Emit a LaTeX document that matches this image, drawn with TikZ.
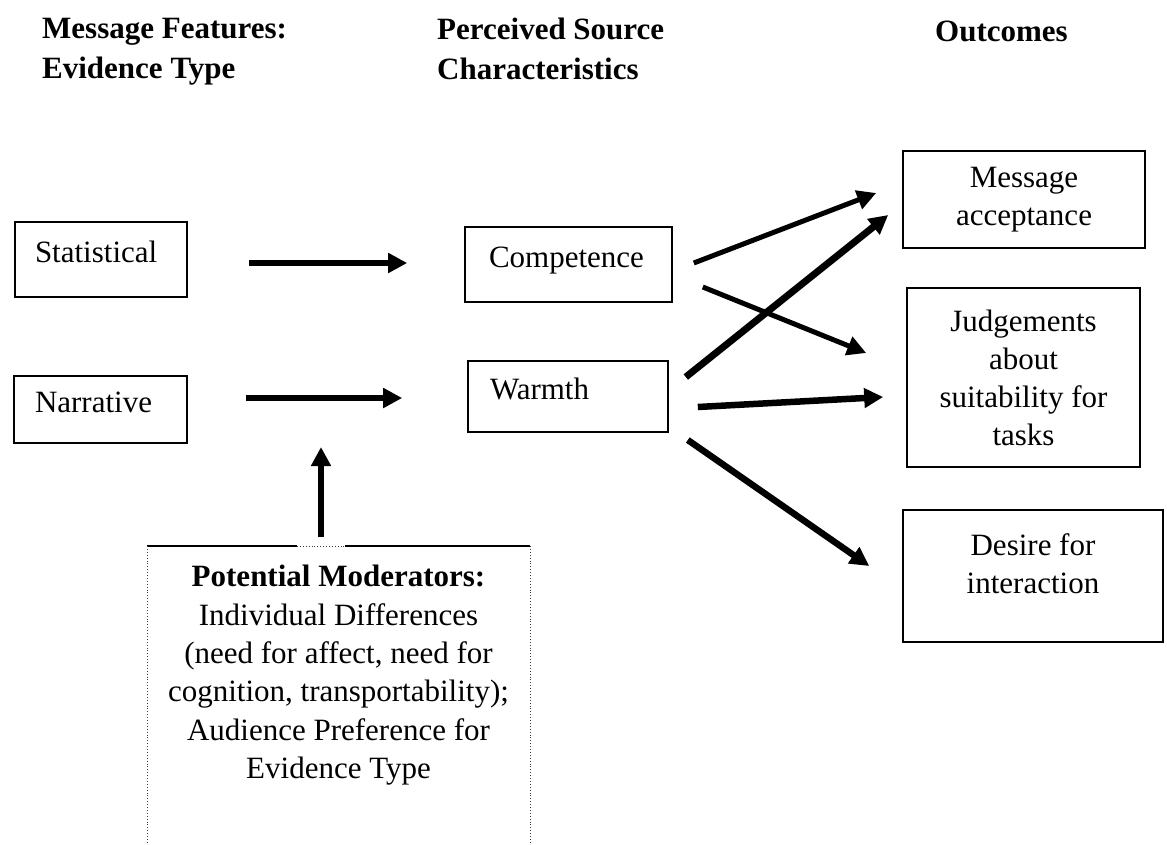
\documentclass[tikz,border=0pt]{standalone}
\usepackage{fontspec}
\setmainfont{Liberation Serif}
\usetikzlibrary{arrows.meta}

\begin{document}
\begin{tikzpicture}[
  x=1pt, y=-1pt,
  every node/.style={font=\fontsize{31}{38}\selectfont},
  head/.style={anchor=north west, inner sep=0pt, align=left, font=\fontsize{31}{40}\selectfont\bfseries},
  inbox/.style={draw, line width=1.6pt, align=left, text height=22pt, text depth=16pt, inner ysep=0pt},
  outbox/.style={draw, line width=1.6pt, align=center, inner sep=0pt},
  arr/.style={line width=6pt, -{Triangle[length=19pt, width=19pt]}},
  frame/.style={line width=1.6pt},
  dotframe/.style={line width=0.9pt, dotted, black!75}
]
\useasboundingbox (0,0) rectangle (1167,844);
\clip (0,0) rectangle (1167,844);

% column headings
\node[head] (hfeat) at (42,18) {Message Features:\\Evidence Type};
\node[head] (hsrc) at (437,18) {Perceived Source\\Characteristics};
\node[head] (hout) at (935,21) {Outcomes};

% evidence type and source characteristics
\node[inbox, text width=132pt, inner xsep=20pt, minimum height=75pt] (stat) at (101,259.5) {Statistical};
\node[inbox, text width=131pt, inner xsep=21pt, minimum height=67pt] (narr) at (100.5,409.5) {Narrative};
\node[inbox, text width=159pt, inner xsep=24pt, minimum height=75pt] (comp) at (568.5,264.5) {Competence};
\node[inbox, text width=156pt, inner xsep=22pt, minimum height=71pt] (warm) at (568,396.5) {Warmth};

% outcomes
\node[outbox, minimum width=242pt, minimum height=97pt] (accept) at (1024,199.5) {Message\\acceptance};
\node[outbox, minimum width=233pt, minimum height=179pt] (judge) at (1023.5,377.5) {Judgements\\about\\suitability for\\tasks};
\node[outbox, minimum width=260pt, minimum height=132pt, text depth=24pt] (desire) at (1033,576) {Desire for\\interaction};

% moderators
\node[anchor=north, inner sep=0pt, align=center, font=\fontsize{31}{38.4}\selectfont] (mod) at (338.5,565)
  {\textbf{Potential Moderators:}\\Individual Differences\\(need for affect, need for\\cognition, transportability);\\Audience Preference for\\Evidence Type};
\coordinate (modnw) at (147,546);
\coordinate (modne) at (530,546);
\coordinate (modgapl) at (297,546);
\coordinate (modgapr) at (345,546);
\coordinate (modtop) at (321,546);
\coordinate (modin) at (321,447);
\draw[frame] (modnw) -- (modgapl) (modgapr) -- (modne);
\draw[dotframe] (modgapl) -- (modgapr);
\draw[dotframe] (modnw) -- ++(0,310) (modne) -- ++(0,310);

\draw[arr] ([shift={(61,3.5)}]stat.east) -- ([shift={(-57,-1.5)}]comp.west);
\draw[arr] ([shift={(58,-11.5)}]narr.east) -- ([shift={(-65,1.5)}]warm.west);
\draw[arr] ([yshift=9pt]modtop) -- (modin);
\draw[arr, line width=5pt] ([shift={(21,-1.5)}]comp.east) -- ([shift={(-26,-6.5)}]accept.west);
\draw[arr, line width=5pt] ([shift={(30,22.5)}]comp.east) -- ([shift={(-40,-24.5)}]judge.west);
\draw[arr, line width=7pt] ([shift={(17,-19.5)}]warm.east) -- ([shift={(-14,15.5)}]accept.west);
\draw[arr, line width=6.5pt] ([shift={(29,10.5)}]warm.east) -- ([shift={(-23,19.5)}]judge.west);
\draw[arr, line width=6.5pt] ([shift={(19,43.5)}]warm.east) -- ([shift={(-33,-10)}]desire.west);
\end{tikzpicture}
\end{document}
